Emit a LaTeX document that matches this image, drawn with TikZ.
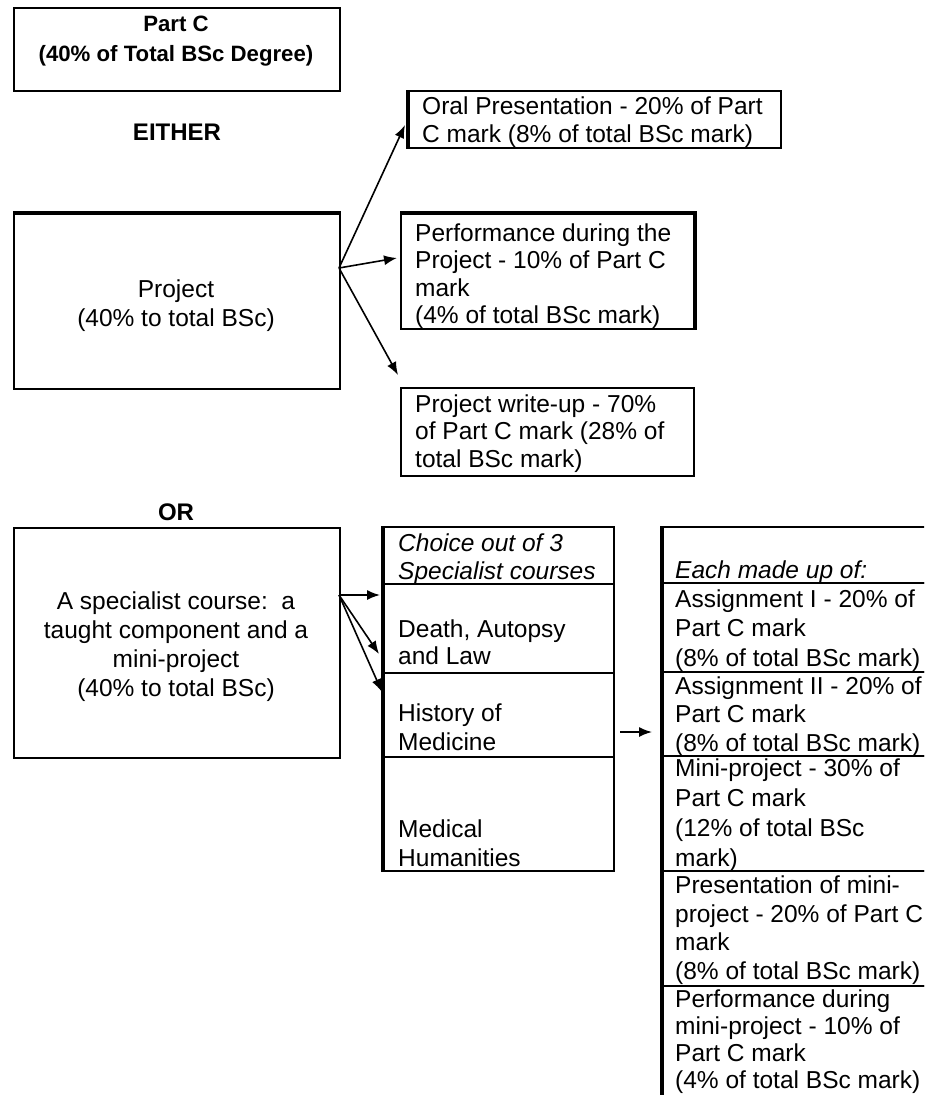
\documentclass[tikz,border=0pt]{standalone}
\usepackage{fontspec}
\setmainfont{Liberation Sans}
\usetikzlibrary{arrows.meta}
\begin{document}
\begin{tikzpicture}[x=1pt,y=-1pt,
  box/.style={draw,line width=2pt,inner sep=0pt,anchor=north west},
  txt/.style={inner sep=0pt,anchor=base west,align=left,font=\fontsize{24.5}{28.5}\selectfont},
  head/.style={inner sep=0pt,font=\fontsize{24}{28}\selectfont\bfseries},
  arr/.style={-{Latex[length=13pt,width=10pt]},line width=1.6pt}]
\useasboundingbox (0,0) rectangle (924,1095);
\clip (0,0) rectangle (924,1095);
\node[box,minimum width=326pt,minimum height=83pt] (partc) at (13,7) {};
\node[txt,anchor=base,align=center,font=\fontsize{22.2}{30}\selectfont\bfseries] (partctxt) at (176,61) {Part C\\(40\% of Total BSc Degree)};
\node[head] (either) at (177,132) {EITHER};
\node[head] (or) at (176,512) {OR};
\node[box,minimum width=326pt,minimum height=175pt] (project) at (13,213) {};
\node[txt,anchor=base,align=center,font=\fontsize{24.5}{29}\selectfont] (projecttxt) at (176,326) {Project\\(40\% to total BSc)};
\node[box,minimum width=372pt,minimum height=57pt] (oral) at (408,90) {};
\node[txt,font=\fontsize{24.5}{28}\selectfont] (oraltxt) at (422,142) {Oral Presentation - 20\% of Part\\C mark (8\% of total BSc mark)};
\node[box,minimum width=293pt,minimum height=115pt] (perf) at (400,213) {};
\node[txt,font=\fontsize{24.5}{27.5}\selectfont] (perftxt) at (415,323.5) {Performance during the\\Project - 10\% of Part C\\mark\\(4\% of total BSc mark)};
\node[box,minimum width=293pt,minimum height=88pt] (writeup) at (400,387) {};
\node[txt,font=\fontsize{24.5}{27.5}\selectfont] (writeuptxt) at (415,467) {Project write-up - 70\%\\of Part C mark (28\% of\\total BSc mark)};
\draw[line width=4pt] (project.north west) -- (project.north east);
\draw[line width=4pt] (oral.north west) -- (oral.south west);
\draw[line width=4pt] (perf.north west) -- (perf.north east) -- (perf.south east);
\coordinate (pfork) at (339,268);
\draw[arr] (pfork) -- ([shift={(-3,35)}]oral.north west);
\draw[arr] (pfork) -- ([shift={(-3,45)}]perf.north west);
\draw[arr] (pfork) -- ([shift={(-2,-12)}]writeup.north west);
\node[box,minimum width=326pt,minimum height=230pt] (special) at (13,527) {};
\node[txt,anchor=base,align=center,font=\fontsize{24.5}{29}\selectfont] (specialtxt) at (176,696) {A specialist course:\ \ a\\taught component and a\\mini-project\\(40\% to total BSc)};
\node[box,minimum width=230pt,minimum height=57pt] (choicehd) at (383,526) {};
\node[box,minimum width=230pt,minimum height=89pt] (death) at (383,583) {};
\node[box,minimum width=230pt,minimum height=84pt] (history) at (383,672) {};
\node[box,minimum width=230pt,minimum height=114pt] (medical) at (383,756) {};
\draw[line width=4pt] (choicehd.north west) -- (medical.south west);
\node[txt,font=\fontsize{24.5}{28}\selectfont\itshape] (choicetxt) at (398,579) {Choice out of 3\\Specialist courses};
\node[txt,font=\fontsize{24.5}{27}\selectfont] (deathtxt) at (398,664) {Death, Autopsy\\and Law};
\node[txt,font=\fontsize{24.5}{29}\selectfont] (historytxt) at (398,750) {History of\\Medicine};
\node[txt,font=\fontsize{24.5}{29}\selectfont] (medicaltxt) at (398,866) {Medical\\Humanities};
\coordinate (sfork) at (339,595);
\draw[arr] (sfork) -- ([shift={(-3,12)}]death.north west);
\draw[arr] (sfork) -- ([shift={(-4,-20)}]death.south west);
\draw[arr] (sfork) -- ([shift={(-1,20)}]history.north west);
\node[box,minimum width=280pt,minimum height=56pt] (eachhd) at (662,526) {};
\node[box,minimum width=280pt,minimum height=89pt] (assigni) at (662,582) {};
\node[box,minimum width=280pt,minimum height=84pt] (assignii) at (662,671) {};
\node[box,minimum width=280pt,minimum height=115pt] (mini) at (662,755) {};
\node[box,minimum width=280pt,minimum height=115pt] (present) at (662,870) {};
\node[box,minimum width=280pt,minimum height=140pt] (perfmini) at (662,985) {};
\draw[line width=4pt] (eachhd.north west) -- (perfmini.south west);
\node[txt,font=\fontsize{24.5}{28.5}\selectfont\itshape] (eachtxt) at (675,578) {Each made up of:};
\node[txt,font=\fontsize{24.5}{29.5}\selectfont] (assignitxt) at (675,666) {Assignment I - 20\% of\\Part C mark\\(8\% of total BSc mark)};
\node[txt,font=\fontsize{24.5}{28.5}\selectfont] (assigniitxt) at (675,751) {Assignment II - 20\% of\\Part C mark\\(8\% of total BSc mark)};
\node[txt,font=\fontsize{24.5}{30}\selectfont] (minitxt) at (675,866) {Mini-project - 30\% of\\Part C mark\\(12\% of total BSc\\mark)};
\node[txt,font=\fontsize{24.5}{28.5}\selectfont] (presenttxt) at (675,979) {Presentation of mini-\\project - 20\% of Part C\\mark\\(8\% of total BSc mark)};
\node[txt,font=\fontsize{24.5}{27}\selectfont] (perfminitxt) at (675,1088) {Performance during\\mini-project - 10\% of\\Part C mark\\(4\% of total BSc mark)};
\draw[arr] ([shift={(5,60)}]history.north east) -- ([shift={(-10,61)}]assignii.north west);
\end{tikzpicture}
\end{document}
